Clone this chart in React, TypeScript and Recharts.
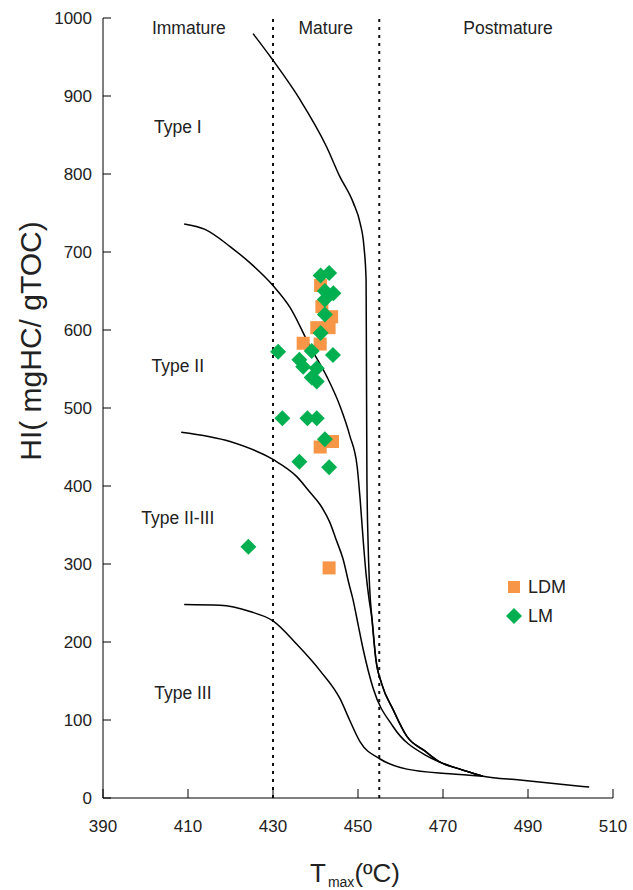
import { ScatterChart, Scatter, XAxis, YAxis, ReferenceLine, Legend } from 'recharts';

const FONT = '"Liberation Sans", Arial, sans-serif';

const X_TICKS = [390, 410, 430, 450, 470, 490, 510];
const Y_TICKS = [0, 100, 200, 300, 400, 500, 600, 700, 800, 900, 1000];

// oil window boundaries (Tmax, ºC)
const MATURITY_LIMITS = [430, 455];

const zoneLabels = [
  { x: 410.2, y: 987, text: 'Immature' },
  { x: 442.4, y: 987, text: 'Mature' },
  { x: 485.3, y: 987, text: 'Postmature' },
];

const typeLabels = [
  { x: 407.6, y: 860, text: 'Type I' },
  { x: 407.6, y: 554, text: 'Type II' },
  { x: 407.6, y: 359, text: 'Type II-III' },
  { x: 408.8, y: 134, text: 'Type III' },
];

const typeICurve = [
  { x: 425.3, y: 980 }, { x: 429.7, y: 948 }, { x: 436.4, y: 895 }, { x: 442.6, y: 835 },
  { x: 445.7, y: 797 }, { x: 448.9, y: 763 }, { x: 450.5, y: 737 }, { x: 451.4, y: 707 },
  { x: 451.9, y: 665 }, { x: 452.0, y: 537 }, { x: 452.1, y: 409 }, { x: 452.35, y: 332 },
  { x: 452.7, y: 274 }, { x: 453.3, y: 229 }, { x: 454.2, y: 178 }, { x: 455.6, y: 146 },
  { x: 458.2, y: 114 }, { x: 461.5, y: 79 }, { x: 465.8, y: 60 }, { x: 469.3, y: 46 },
  { x: 474.0, y: 37 }, { x: 479.4, y: 28 }, { x: 488.1, y: 23 }, { x: 504.4, y: 14 },
];

const typeIICurve = [
  { x: 409.1, y: 736 }, { x: 414.0, y: 729 }, { x: 419.9, y: 707 }, { x: 424.6, y: 686 },
  { x: 430.0, y: 657 }, { x: 434.0, y: 629 }, { x: 438.7, y: 579 }, { x: 442.7, y: 540 },
  { x: 445.8, y: 502 }, { x: 448.1, y: 464 }, { x: 449.8, y: 425 }, { x: 450.5, y: 383 },
  { x: 451.2, y: 332 }, { x: 451.9, y: 287 }, { x: 452.6, y: 255 }, { x: 453.3, y: 229 },
  { x: 454.2, y: 178 }, { x: 455.6, y: 146 }, { x: 458.2, y: 114 }, { x: 461.5, y: 79 },
  { x: 465.8, y: 60 }, { x: 469.3, y: 46 }, { x: 474.0, y: 37 }, { x: 479.4, y: 28 },
];

const typeIIIIICurve = [
  { x: 408.4, y: 469 }, { x: 419.9, y: 457 }, { x: 430.0, y: 434 }, { x: 435.6, y: 412 },
  { x: 438.7, y: 392 }, { x: 441.1, y: 376 }, { x: 443.4, y: 353 }, { x: 444.8, y: 332 },
  { x: 446.5, y: 306 }, { x: 447.9, y: 274 }, { x: 448.8, y: 255 }, { x: 450.0, y: 223 },
  { x: 451.2, y: 191 }, { x: 453.6, y: 140 }, { x: 458.2, y: 92 }, { x: 466.2, y: 54 },
  { x: 469.3, y: 46 }, { x: 474.0, y: 37 }, { x: 479.4, y: 28 },
];

const typeIIICurve = [
  { x: 409.1, y: 248 }, { x: 417.5, y: 247 }, { x: 424.6, y: 239 }, { x: 430.0, y: 227 },
  { x: 435.6, y: 197 }, { x: 441.1, y: 163 }, { x: 445.8, y: 127 }, { x: 448.1, y: 99 },
  { x: 450.5, y: 72 }, { x: 455.2, y: 50 }, { x: 461.5, y: 37 }, { x: 471.6, y: 31 },
  { x: 479.4, y: 28 },
];

const ldmSamples = [
  { x: 441.2, y: 657 }, { x: 441.5, y: 630 }, { x: 443.8, y: 617 }, { x: 440.3, y: 603 },
  { x: 443.2, y: 603 }, { x: 437.1, y: 583 }, { x: 441.1, y: 582 }, { x: 441.1, y: 450 },
  { x: 444.0, y: 457 }, { x: 443.2, y: 295 },
];

const lmSamples = [
  { x: 441.2, y: 670 }, { x: 443.2, y: 673 }, { x: 442.2, y: 650 }, { x: 444.2, y: 647 },
  { x: 442.2, y: 639 }, { x: 442.2, y: 620 }, { x: 441.2, y: 596 }, { x: 439.1, y: 573 },
  { x: 431.2, y: 572 }, { x: 444.1, y: 568 }, { x: 436.2, y: 562 }, { x: 437.1, y: 553 },
  { x: 440.3, y: 551 }, { x: 439.1, y: 539 }, { x: 440.3, y: 534 }, { x: 432.2, y: 487 },
  { x: 438.1, y: 487 }, { x: 440.3, y: 487 }, { x: 442.2, y: 460 }, { x: 436.2, y: 431 },
  { x: 443.2, y: 424 }, { x: 424.2, y: 322 },
];

const ORANGE = '#F79646';
const GREEN = '#00B050';

const curves = [typeICurve, typeIICurve, typeIIIIICurve, typeIIICurve];

const NoDot = () => <g />;

const SquareDot = ({ cx, cy }: any) => (
  <rect x={cx - 6.5} y={cy - 6.5} width={13} height={13} fill={ORANGE} />
);

const DiamondDot = ({ cx, cy }: any) => (
  <polygon
    points={`${cx},${cy - 8} ${cx + 8},${cy} ${cx},${cy + 8} ${cx - 8},${cy}`}
    fill={GREEN}
  />
);

const TextDot = ({ cx, cy, payload }: any) => (
  <text x={cx} y={cy} dy={6} textAnchor="middle" fontSize={17.5} fontFamily={FONT} fill="#222">
    {payload.text}
  </text>
);

const XTick = ({ x, y, payload }: any) => (
  <g>
    <line x1={x} x2={x} y1={y} y2={y - 9} stroke="#000" />
    <text x={x} y={y + 34} textAnchor="middle" fontSize={17} fontFamily={FONT} fill="#222">
      {payload.value}
    </text>
  </g>
);

const YTick = ({ x, y, payload }: any) => (
  <g>
    <line x1={x} x2={x + 8} y1={y} y2={y} stroke="#000" />
    <text x={x - 11} y={y + 6} textAnchor="end" fontSize={17} fontFamily={FONT} fill="#222">
      {payload.value}
    </text>
  </g>
);

const XTitle = ({ viewBox }: any) => (
  <text x={viewBox.x + 252} y={882} textAnchor="middle" fontFamily={FONT} fill="#222" fontSize={26}>
    T
    <tspan fontSize={14} dx={2} dy={5}>max</tspan>
    <tspan dy={-5}>(ºC)</tspan>
  </text>
);

const YTitle = () => (
  <text
    x={0}
    y={0}
    transform="translate(41, 341) rotate(-90)"
    textAnchor="middle"
    fontFamily={FONT}
    fill="#222"
    fontSize={30}
  >
    HI( mgHC/ gTOC)
  </text>
);

const legendItems = [
  { name: 'LDM', color: ORANGE, shape: 'square' },
  { name: 'LM', color: GREEN, shape: 'diamond' },
];

const renderLegend = () => (
  <div style={{ fontFamily: FONT, fontSize: 18, color: '#222' }}>
    {legendItems.map((item) => (
      <div key={item.name} style={{ display: 'flex', alignItems: 'center', height: 22, marginBottom: 7 }}>
        <svg width={18} height={18} style={{ marginRight: 5 }}>
          {item.shape === 'square' ? (
            <rect x={3} y={3} width={12} height={12} fill={item.color} />
          ) : (
            <polygon points="9,1 17,9 9,17 1,9" fill={item.color} />
          )}
        </svg>
        <span>{item.name}</span>
      </div>
    ))}
  </div>
);

export default function App() {
  return (
    <div style={{ position: 'absolute', left: 0, top: 0, background: '#fff' }}>
      <ScatterChart width={633} height={890} margin={{ top: 18, right: 20, bottom: 0, left: 0 }}>
        <XAxis
          type="number"
          dataKey="x"
          domain={[390, 510]}
          ticks={X_TICKS}
          tick={<XTick />}
          tickLine={false}
          tickSize={0}
          tickMargin={0}
          height={92}
          stroke="#000"
          allowDataOverflow
          label={{ content: <XTitle /> }}
        />
        <YAxis
          type="number"
          dataKey="y"
          domain={[0, 1000]}
          ticks={Y_TICKS}
          tick={<YTick />}
          tickLine={false}
          tickSize={0}
          tickMargin={0}
          width={103}
          stroke="#000"
          allowDataOverflow
          label={{ content: <YTitle /> }}
        />
        {MATURITY_LIMITS.map((t) => (
          <ReferenceLine key={t} x={t} stroke="#111" strokeWidth={2} strokeDasharray="3 5" />
        ))}
        {curves.map((c, i) => (
          <Scatter
            key={i}
            data={c}
            fill="none"
            line={{ stroke: '#000', strokeWidth: 1.5, fill: 'none' }}
            lineType="joint"
            lineJointType="monotoneX"
            shape={<NoDot />}
            isAnimationActive={false}
            legendType="none"
          />
        ))}
        <Scatter data={zoneLabels} shape={<TextDot />} isAnimationActive={false} legendType="none" />
        <Scatter data={typeLabels} shape={<TextDot />} isAnimationActive={false} legendType="none" />
        <Scatter name="LDM" data={ldmSamples} fill={ORANGE} shape={<SquareDot />} isAnimationActive={false} />
        <Scatter name="LM" data={lmSamples} fill={GREEN} shape={<DiamondDot />} isAnimationActive={false} />
        <Legend
          layout="vertical"
          align="center"
          verticalAlign="middle"
          content={renderLegend}
          wrapperStyle={{ left: 505, top: 576, width: 90 }}
        />
      </ScatterChart>
    </div>
  );
}
